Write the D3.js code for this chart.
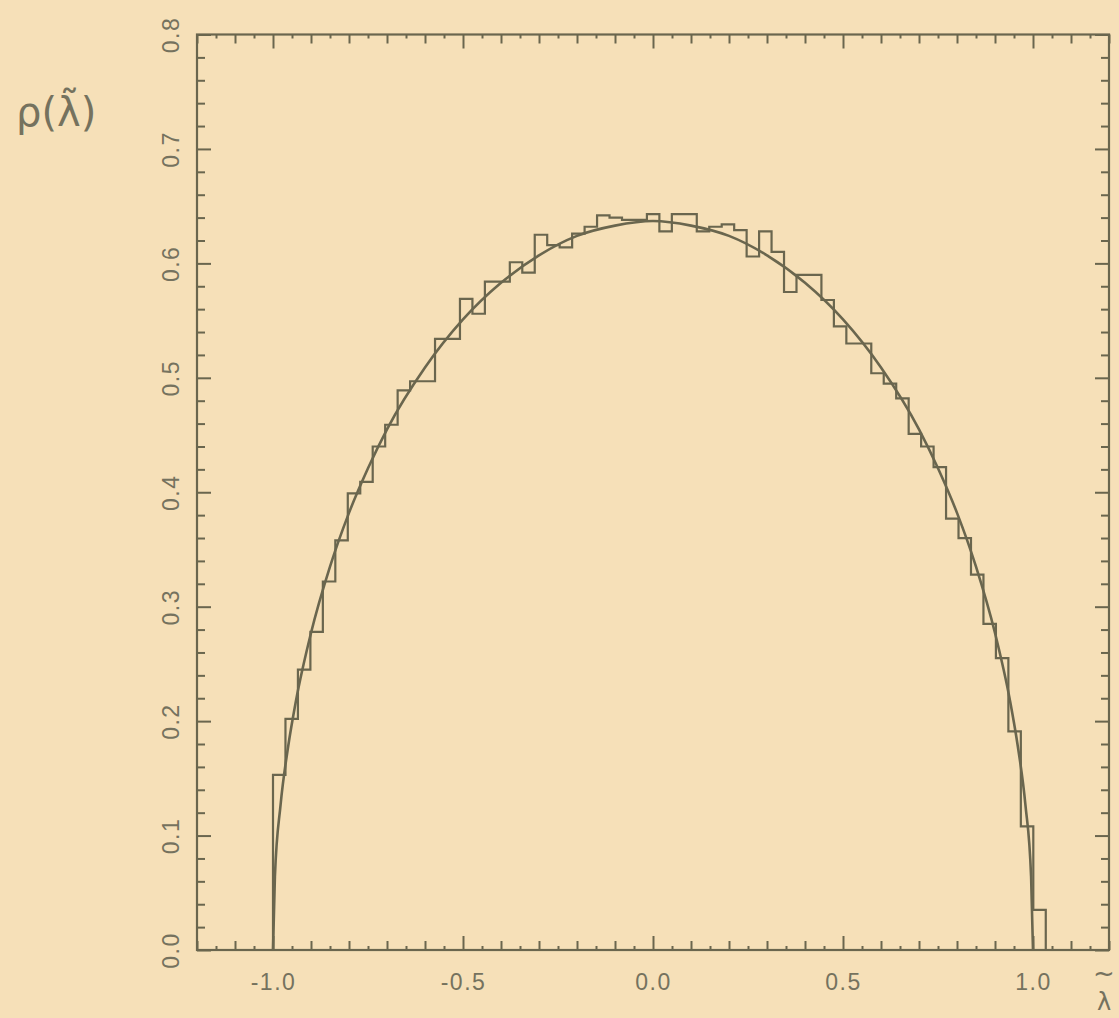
<!DOCTYPE html>
<html>
<head>
<meta charset="utf-8">
<script src="https://cdn.jsdelivr.net/npm/d3@7"></script>
<style>
  html, body { margin: 0; padding: 0; background: #f6e0b8; overflow: hidden; }
  svg { display: block; }
  .tick text { font-family: "Liberation Sans", Arial, sans-serif; }
</style>
</head>
<body>
<div id="chart"></div>
<script>
// histogram bins: start at -1.0, 62 bins of equal width
var binStart = -1.0;
var binWidth = 0.0328;
var binValues = [
  0.153, 0.202, 0.245, 0.278, 0.322, 0.358, 0.399, 0.409, 0.440, 0.459,
  0.489, 0.497, 0.497, 0.534, 0.534, 0.569, 0.556, 0.584, 0.584, 0.601,
  0.592, 0.625, 0.616, 0.614, 0.626, 0.632, 0.642, 0.640, 0.638, 0.638,
  0.643, 0.628, 0.643, 0.643, 0.628, 0.632, 0.634, 0.629, 0.606, 0.628,
  0.610, 0.575, 0.590, 0.590, 0.568, 0.545, 0.530, 0.530, 0.504, 0.495,
  0.482, 0.451, 0.440, 0.422, 0.377, 0.360, 0.328, 0.285, 0.255, 0.191,
  0.108, 0.035
];

// smooth curve
var curveX = [-1.0, -0.995, -0.98, -0.96, -0.94, -0.9, -0.85, -0.8, -0.75, -0.7, -0.6, -0.5, -0.4, -0.3, -0.2, -0.1,
  0.0, 0.1, 0.2, 0.3, 0.4, 0.5, 0.6, 0.7, 0.75, 0.8, 0.85, 0.9, 0.94, 0.96, 0.98, 0.995, 1.0];
var curveY = [0.0, 0.064, 0.127, 0.178, 0.217, 0.277, 0.335, 0.382, 0.421, 0.455, 0.509, 0.551, 0.583, 0.607, 0.624, 0.633,
  0.637, 0.633, 0.624, 0.607, 0.583, 0.551, 0.509, 0.455, 0.421, 0.382, 0.335, 0.277, 0.217, 0.178, 0.127, 0.064, 0.0];

var xLabels = [-1.0, -0.5, 0.0, 0.5, 1.0];
var yLabels = [0.0, 0.1, 0.2, 0.3, 0.4, 0.5, 0.6, 0.7, 0.8];

var W = 1119, H = 1018;
var inkColor = "#6a664e";
var textColor = "#75725e";

var svg = d3.select("#chart").append("svg")
  .attr("width", W).attr("height", H);

svg.append("rect").attr("width", W).attr("height", H).attr("fill", "#f6e0b8");

var x = d3.scaleLinear().domain([-1.2, 1.2]).range([197, 1109]);
var y = d3.scaleLinear().domain([0, 0.8]).range([950, 34.5]);

// plain hyphen instead of unicode minus, like the old plot
var fmt = function(v){ return d3.format(".1f")(v).replace("\u2212", "-"); };

// ticks
var xMinor = d3.range(-23, 24, 2).map(function(i){ return i * 0.05; });
var xMid = d3.range(-12, 13).map(function(i){ return i * 0.1; }).filter(function(v){ return Math.abs(Math.round(v*10)) % 5 != 0; });
var xMajor = [-1.0, -0.5, 0.0, 0.5, 1.0];
var yMinor = d3.range(0, 41).map(function(i){ return i * 0.02; }).filter(function(v){ return Math.round(v*50) % 5 != 0; });
var yMajor = yLabels;

function tickLayer(axis, transform){
  var g = svg.append("g").attr("transform", transform).call(axis);
  g.select(".domain").remove();
  g.selectAll("line").attr("stroke", inkColor).attr("stroke-width", 2);
  return g;
}

[[xMinor, 4], [xMid, 9], [xMajor, 14]].forEach(function(t){
  tickLayer(d3.axisBottom(x).tickValues(t[0]).tickSize(-t[1]).tickFormat(""), "translate(0,950)");
  tickLayer(d3.axisTop(x).tickValues(t[0]).tickSize(-t[1]).tickFormat(""), "translate(0,34.5)");
});
[[yMinor, 8], [yMajor, 14]].forEach(function(t){
  tickLayer(d3.axisLeft(y).tickValues(t[0]).tickSize(-t[1]).tickFormat(""), "translate(197,0)");
  tickLayer(d3.axisRight(y).tickValues(t[0]).tickSize(-t[1]).tickFormat(""), "translate(1109,0)");
});

// frame
svg.append("rect")
  .attr("x", x(-1.2)).attr("y", y(0.8))
  .attr("width", x(1.2) - x(-1.2)).attr("height", y(0) - y(0.8))
  .attr("fill", "none").attr("stroke", inkColor).attr("stroke-width", 2.2);

// tick labels
var xl = svg.append("g").attr("transform", "translate(0,950)")
  .call(d3.axisBottom(x).tickValues(xLabels).tickSize(0).tickPadding(24).tickFormat(fmt));
xl.select(".domain").remove();
xl.selectAll("text").attr("fill", textColor).style("font-size", "23px").style("letter-spacing", "1.5px");

var yl = svg.append("g").attr("transform", "translate(197,0)")
  .call(d3.axisLeft(y).tickValues(yLabels).tickSize(0).tickPadding(0).tickFormat(fmt));
yl.select(".domain").remove();
yl.selectAll("text")
  .attr("fill", textColor).style("font-size", "23px").style("letter-spacing", "1.5px")
  .attr("text-anchor", "middle")
  .attr("x", 0).attr("dy", 0)
  .attr("transform", "translate(-18,0) rotate(-90)");

// histogram outline
var histPts = [[binStart, 0]];
binValues.forEach(function(v, i){
  histPts.push([binStart + i * binWidth, v]);
  histPts.push([binStart + (i + 1) * binWidth, v]);
});
histPts.push([binStart + binValues.length * binWidth, 0]);

svg.append("path")
  .datum(histPts)
  .attr("fill", "none")
  .attr("stroke", inkColor)
  .attr("stroke-width", 2.2)
  .attr("stroke-linejoin", "miter")
  .attr("d", d3.line().x(function(d){ return x(d[0]); }).y(function(d){ return y(d[1]); }));

// smooth curve
svg.append("path")
  .datum(d3.zip(curveX, curveY))
  .attr("fill", "none")
  .attr("stroke", inkColor)
  .attr("stroke-width", 2.6)
  .attr("d", d3.line().curve(d3.curveMonotoneX).x(function(d){ return x(d[0]); }).y(function(d){ return y(d[1]); }));

// axis titles
svg.append("text")
  .attr("x", 16).attr("y", 126)
  .attr("fill", textColor)
  .style("font-family", "'DejaVu Sans', sans-serif")
  .style("font-size", "40px")
  .text("\u03C1(\u03BB\u0303)");

svg.append("text")
  .attr("x", 1104).attr("y", 982)
  .attr("text-anchor", "middle")
  .attr("fill", textColor)
  .style("font-family", "'DejaVu Sans', sans-serif")
  .style("font-size", "26px")
  .text("~");
svg.append("text")
  .attr("x", 1104).attr("y", 1010)
  .attr("text-anchor", "middle")
  .attr("fill", textColor)
  .style("font-family", "'DejaVu Sans', sans-serif")
  .style("font-size", "24px")
  .text("\u03BB");
</script>
</body>
</html>
